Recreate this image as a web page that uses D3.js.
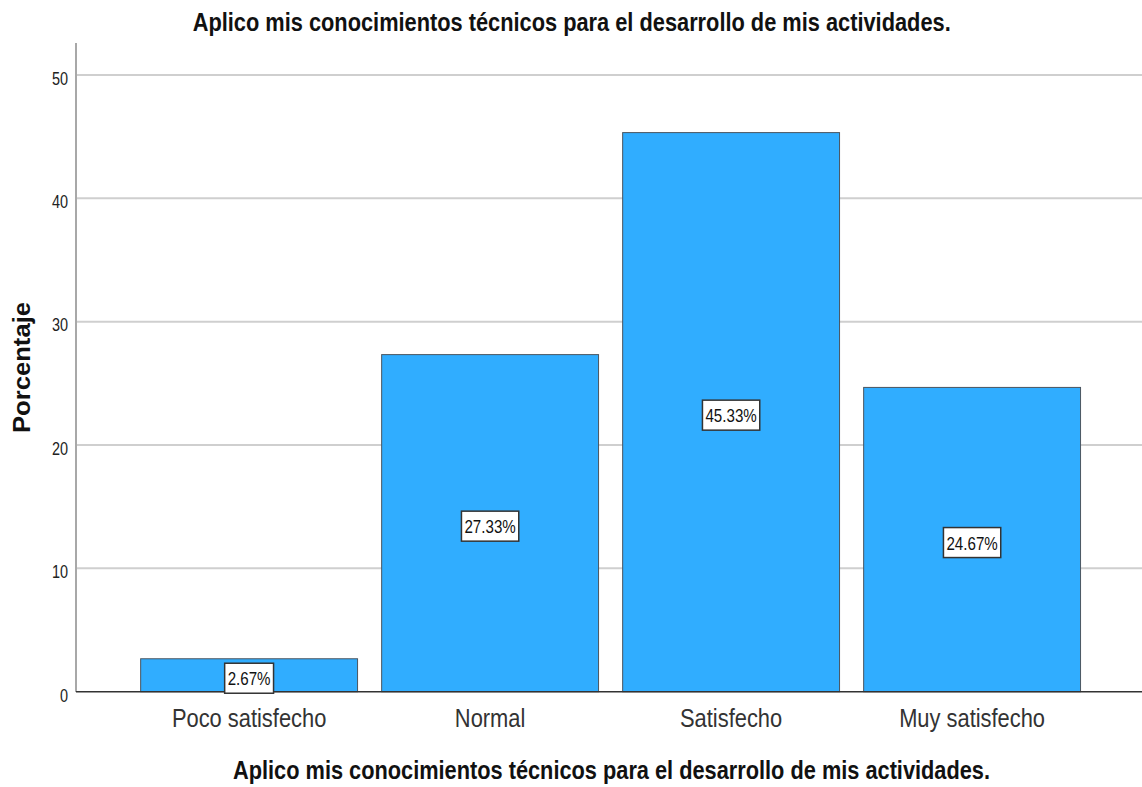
<!DOCTYPE html>
<html>
<head>
<meta charset="utf-8">
<script src="https://cdn.jsdelivr.net/npm/d3@7/dist/d3.min.js"></script>
<style>
  html, body { margin: 0; padding: 0; background: #fff; }
  svg { display: block; font-family: "Liberation Sans", Arial, sans-serif; }
</style>
</head>
<body>
<svg id="chart" width="1142" height="787"></svg>
<script>
// Survey responses: share of respondents per satisfaction level
const categories = ["Poco satisfecho", "Normal", "Satisfecho", "Muy satisfecho"];
const percentages = [2.67, 27.33, 45.33, 24.67];
const yTicks = [0, 10, 20, 30, 40, 50];
const titleText = "Aplico mis conocimientos técnicos para el desarrollo de mis actividades.";
const yTitleText = "Porcentaje";

const W = 1142, H = 787;
const plot = { left: 76, right: 1142, top: 43, bottom: 692 };

const svg = d3.select("#chart");

const x = d3.scaleBand()
  .domain(categories)
  .range([78, 1143.2])
  .paddingInner(0.1)
  .paddingOuter(0.26);

const y = d3.scaleLinear()
  .domain([0, 50])
  .range([691.7, 75]);

// Narrow a text element horizontally to a given fraction of its natural width
function squeeze(sel, factor) {
  sel.each(function () {
    const w = this.getComputedTextLength();
    d3.select(this)
      .attr("textLength", w * factor)
      .attr("lengthAdjust", "spacingAndGlyphs");
  });
}

// Horizontal gridlines
svg.append("g")
  .selectAll("line")
  .data(yTicks.filter(t => t > 0))
  .join("line")
  .attr("x1", plot.left)
  .attr("x2", plot.right)
  .attr("y1", d => y(d))
  .attr("y2", d => y(d))
  .attr("stroke", "#cfcfcf")
  .attr("stroke-width", 2);

// Y axis
const yAxis = d3.axisLeft(y).tickValues(yTicks).tickSize(0).tickPadding(8);
const gy = svg.append("g")
  .attr("transform", `translate(${plot.left},0)`)
  .call(yAxis);
gy.select(".domain").remove();
gy.selectAll(".tick text")
  .attr("x", -8)
  .attr("dy", null)
  .attr("y", 9.3)
  .attr("font-size", 19)
  .attr("fill", "#222")
  .attr("text-anchor", "end")
  .call(squeeze, 0.76);
svg.append("line")
  .attr("x1", plot.left).attr("x2", plot.left)
  .attr("y1", plot.top).attr("y2", plot.bottom)
  .attr("stroke", "#a8a8a8")
  .attr("stroke-width", 2);

// Bars
svg.append("g")
  .selectAll("rect")
  .data(categories.map((c, i) => ({ c, v: percentages[i] })))
  .join("rect")
  .attr("x", d => x(d.c))
  .attr("width", x.bandwidth())
  .attr("y", d => y(d.v))
  .attr("height", d => y(0) - y(d.v))
  .attr("fill", "#30adff")
  .attr("stroke", "#4a5560")
  .attr("stroke-width", 1);

// X axis baseline
svg.append("line")
  .attr("x1", plot.left).attr("x2", plot.right)
  .attr("y1", y(0)).attr("y2", y(0))
  .attr("stroke", "#333")
  .attr("stroke-width", 1.5);

// Category labels
const xAxis = d3.axisBottom(x).tickSize(0).tickPadding(0);
const gx = svg.append("g")
  .attr("transform", `translate(0,${y(0)})`)
  .call(xAxis);
gx.select(".domain").remove();
gx.selectAll(".tick text")
  .attr("y", 35.3)
  .attr("dy", null)
  .attr("font-size", 25)
  .attr("fill", "#333")
  .call(squeeze, 0.875);

// Value labels in boxes at the middle of each bar
const lab = svg.append("g")
  .selectAll("g")
  .data(categories.map((c, i) => ({ c, v: percentages[i] })))
  .join("g")
  .attr("transform", d => `translate(${x(d.c) + x.bandwidth() / 2},${(y(d.v) + y(0)) / 2 + 3})`);
lab.append("text")
  .attr("text-anchor", "middle")
  .attr("y", 7)
  .attr("font-size", 18)
  .attr("fill", "#111")
  .text(d => d.v.toFixed(2) + "%")
  .call(squeeze, 0.84);
lab.insert("rect", "text")
  .each(function () {
    const t = d3.select(this.parentNode).select("text").node();
    const w = +t.getAttribute("textLength") + 6;
    d3.select(this)
      .attr("x", -w / 2)
      .attr("width", w)
      .attr("y", -15)
      .attr("height", 30);
  })
  .attr("fill", "#fff")
  .attr("stroke", "#333")
  .attr("stroke-width", 1.5);

// Chart title
svg.append("text")
  .attr("x", 571.7)
  .attr("y", 31)
  .attr("text-anchor", "middle")
  .attr("font-size", 26)
  .attr("font-weight", "bold")
  .attr("fill", "#111")
  .attr("textLength", 758)
  .attr("lengthAdjust", "spacingAndGlyphs")
  .text(titleText);

// X axis title
svg.append("text")
  .attr("x", (plot.left + plot.right) / 2 + 2.5)
  .attr("y", 779)
  .attr("text-anchor", "middle")
  .attr("font-size", 26)
  .attr("font-weight", "bold")
  .attr("fill", "#111")
  .attr("textLength", 757)
  .attr("lengthAdjust", "spacingAndGlyphs")
  .text(titleText);

// Y axis title
svg.append("text")
  .attr("transform", `translate(29.5,${(plot.top + plot.bottom) / 2}) rotate(-90)`)
  .attr("text-anchor", "middle")
  .attr("font-size", 23)
  .attr("font-weight", "bold")
  .attr("fill", "#111")
  .attr("textLength", 131)
  .attr("lengthAdjust", "spacingAndGlyphs")
  .text(yTitleText);
</script>
</body>
</html>
